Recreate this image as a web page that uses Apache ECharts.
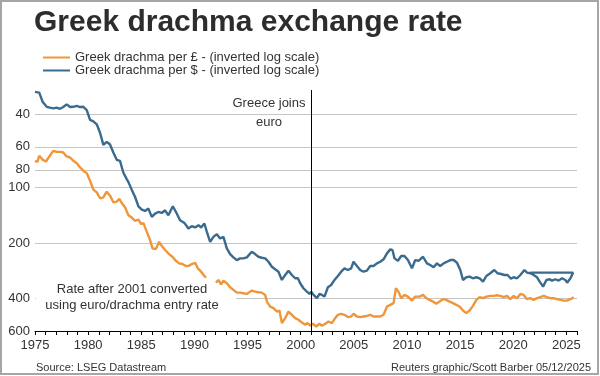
<!DOCTYPE html>
<html>
<head>
<meta charset="utf-8">
<script src="https://cdn.jsdelivr.net/npm/echarts@6/dist/echarts.min.js"></script>
<style>
  html, body { margin: 0; padding: 0; background: #fff; }
  #main { width: 600px; height: 376px; }
</style>
</head>
<body>
<div id="main"></div>
<script>
// drachma per £ (orange) and per $ (blue), [year, rate]
var gbpSeries = [
  [1975.00, 71.5], [1975.22, 72.4], [1975.40, 67.1], [1975.73, 70.6], [1976.04, 72.1], [1976.35, 67.7],
  [1976.72, 63.1], [1977.04, 63.9], [1977.35, 63.9], [1977.66, 64.4], [1977.98, 67.7], [1978.30, 68.6],
  [1978.61, 71.5], [1978.93, 73.6], [1979.24, 77.7], [1979.55, 80.9], [1979.87, 83.4], [1980.18, 91.7],
  [1980.49, 102.5], [1980.81, 106.0], [1981.12, 114.2], [1981.43, 112.8], [1981.75, 105.1], [1982.06, 110.5],
  [1982.37, 120.1], [1982.69, 119.0], [1982.94, 115.2], [1983.16, 121.1], [1983.47, 127.8], [1983.79, 141.2],
  [1984.10, 145.3], [1984.42, 151.5], [1984.73, 148.9], [1984.99, 157.9], [1985.20, 155.4], [1985.52, 173.8],
  [1985.83, 192.7], [1986.05, 213.7], [1986.37, 215.6], [1986.68, 196.8], [1986.99, 209.5], [1987.31, 220.1],
  [1987.62, 229.4], [1987.93, 237.2], [1988.25, 249.4], [1988.56, 257.6], [1988.87, 259.8], [1989.19, 266.3],
  [1989.50, 265.3], [1989.75, 259.8], [1990.07, 255.7], [1990.32, 274.1], [1990.63, 285.9], [1990.94, 301.7],
  [1991.10, 308.0], [1991.55, null],
  [1992.02, 328.0], [1992.26, 317.0], [1992.50, 335.0], [1992.73, 320.0], [1993.05, 330.4], [1993.36, 347.2],
  [1993.67, 359.1], [1993.99, 371.4], [1994.30, 371.4], [1994.61, 374.1], [1994.93, 377.5], [1995.40, 362.2],
  [1995.71, 366.8], [1996.02, 369.5], [1996.34, 371.4], [1996.66, 382.2], [1996.82, 415.3], [1997.13, 442.0],
  [1997.44, 450.8], [1997.76, 470.3], [1998.00, 464.5], [1998.23, 543.5], [1998.54, 510.7], [1998.85, 470.3],
  [1999.17, 490.0], [1999.48, 510.7], [1999.79, 521.6], [2000.11, 539.5], [2000.42, 555.2], [2000.64, 543.5],
  [2000.89, 560.1], [2001.15, 548.3], [2001.46, 567.1], [2001.77, 548.3], [2002.00, 562.1], [2002.31, 548.3],
  [2002.62, 532.8], [2002.94, 543.5], [2003.18, 517.1], [2003.50, 490.0], [2003.81, 484.0], [2004.12, 490.0],
  [2004.44, 504.4], [2004.75, 500.7], [2004.97, 484.0], [2005.29, 500.7], [2005.60, 504.4], [2005.91, 500.7],
  [2006.23, 496.3], [2006.54, 490.0], [2006.85, 500.7], [2007.17, 500.7], [2007.49, 500.7], [2007.80, 490.0],
  [2008.12, 442.0], [2008.43, 432.7], [2008.74, 423.6], [2008.96, 351.6], [2009.20, 366.8], [2009.46, 398.1],
  [2009.77, 382.2], [2010.09, 390.3], [2010.47, 410.2], [2010.78, 390.3], [2011.19, 390.3], [2011.51, 382.2],
  [2011.82, 398.1], [2012.13, 406.6], [2012.45, 415.3], [2012.76, 427.3], [2013.07, 415.3], [2013.39, 403.1],
  [2013.70, 406.6], [2014.01, 415.3], [2014.33, 423.6], [2014.64, 432.7], [2014.95, 442.0], [2015.27, 464.5],
  [2015.58, 479.8], [2015.89, 464.5], [2016.21, 438.1], [2016.53, 406.6], [2016.84, 393.2], [2017.16, 398.1],
  [2017.47, 390.3], [2017.84, 386.9], [2018.16, 386.9], [2018.47, 383.6], [2018.78, 386.9], [2019.10, 393.2],
  [2019.41, 386.9], [2019.73, 403.1], [2020.04, 386.9], [2020.36, 398.1], [2020.67, 377.5], [2020.98, 382.2],
  [2021.30, 403.1], [2021.61, 398.1], [2021.92, 406.6], [2022.24, 398.1], [2022.55, 393.2], [2022.86, 386.9],
  [2023.18, 393.2], [2023.49, 398.1], [2023.80, 398.1], [2024.12, 403.1], [2024.43, 406.6], [2024.74, 410.2],
  [2025.05, 410.2], [2025.38, 403.1], [2025.69, 393.2]
];

var usdSeries = [
  [1975.00, 30.2], [1975.40, 30.5], [1975.73, 34.3], [1976.10, 36.4], [1976.41, 36.8], [1976.72, 37.1],
  [1977.04, 36.8], [1977.35, 37.3], [1977.66, 36.5], [1977.98, 35.3], [1978.30, 36.5], [1978.61, 36.4],
  [1978.93, 36.0], [1979.24, 36.5], [1979.55, 36.4], [1979.87, 37.9], [1980.18, 42.9], [1980.49, 43.7],
  [1980.81, 45.3], [1981.12, 50.3], [1981.43, 58.6], [1981.75, 56.4], [1982.06, 58.3], [1982.37, 64.4],
  [1982.69, 70.6], [1983.00, 71.5], [1983.31, 82.7], [1983.63, 89.9], [1983.79, 93.3], [1984.10, 102.5],
  [1984.42, 112.4], [1984.73, 126.2], [1985.05, 131.5], [1985.36, 133.8], [1985.67, 129.9], [1985.99, 144.1],
  [1986.30, 138.2], [1986.61, 135.5], [1986.93, 137.2], [1987.24, 132.7], [1987.55, 141.2], [1987.97, 126.2],
  [1988.34, 138.2], [1988.65, 150.2], [1989.06, 155.4], [1989.43, 166.6], [1989.75, 161.9], [1990.07, 164.5],
  [1990.38, 159.9], [1990.63, 164.5], [1990.94, 156.5], [1991.17, 173.8], [1991.48, 196.8], [1991.79, 184.9],
  [1992.11, 178.8], [1992.42, 188.7], [1992.73, 184.9], [1993.05, 213.7], [1993.36, 229.4], [1993.67, 238.9],
  [1993.99, 247.2], [1994.30, 242.0], [1994.61, 242.0], [1994.93, 238.9], [1995.40, 222.9], [1995.71, 229.4],
  [1996.02, 237.2], [1996.34, 240.2], [1996.66, 242.0], [1996.97, 252.5], [1997.29, 268.7], [1997.60, 277.5],
  [1997.91, 285.9], [1998.23, 317.0], [1998.54, 297.9], [1998.85, 282.4], [1999.17, 297.9], [1999.48, 310.4],
  [1999.74, 310.4], [1999.95, 330.4], [2000.26, 351.6], [2000.58, 366.8], [2000.83, 377.5], [2000.99, 366.8],
  [2001.21, 382.2], [2001.53, 398.1], [2001.77, 377.5], [2002.00, 382.2], [2002.24, 390.3], [2002.56, 347.2],
  [2002.87, 337.5], [2003.18, 317.0], [2003.50, 301.7], [2003.81, 285.9], [2004.12, 274.1], [2004.44, 279.9],
  [2004.75, 274.1], [2004.97, 252.5], [2005.29, 266.3], [2005.60, 279.9], [2005.91, 285.9], [2006.23, 282.2],
  [2006.54, 266.3], [2006.85, 266.3], [2007.17, 257.6], [2007.49, 252.5], [2007.80, 244.9], [2008.12, 227.4],
  [2008.43, 216.3], [2008.64, 218.6], [2008.83, 242.0], [2009.15, 249.4], [2009.46, 235.1], [2009.77, 235.1],
  [2010.09, 247.2], [2010.47, 274.1], [2010.78, 247.2], [2011.09, 249.4], [2011.51, 237.2], [2011.88, 257.6],
  [2012.19, 263.0], [2012.50, 270.7], [2012.82, 257.6], [2013.13, 266.3], [2013.45, 257.6], [2013.76, 252.5],
  [2014.08, 247.2], [2014.39, 247.2], [2014.71, 255.7], [2015.02, 279.9], [2015.27, 317.0], [2015.58, 306.5],
  [2015.89, 304.2], [2016.21, 310.4], [2016.53, 306.5], [2016.84, 310.4], [2017.16, 323.7], [2017.47, 301.7],
  [2017.84, 291.6], [2018.22, 279.9], [2018.53, 291.6], [2018.85, 294.3], [2019.16, 297.9], [2019.47, 297.9],
  [2019.78, 312.0], [2020.04, 306.5], [2020.36, 310.4], [2020.67, 297.9], [2021.05, 279.9], [2021.30, 289.4],
  [2021.61, 291.6], [2021.92, 297.9], [2022.24, 306.5], [2022.49, 323.7], [2022.81, 344.6], [2023.12, 317.0],
  [2023.43, 314.2], [2023.65, 319.7], [2023.96, 314.2], [2024.27, 319.7], [2024.59, 310.4], [2024.90, 317.0],
  [2025.07, 328.0], [2025.38, 310.4], [2025.63, 289.4], [2025.75, 289.4], [2021.61, 289.4]
];

var yTickValues = [40, 60, 80, 100, 200, 400, 600];
var euroEntryYear = 2001;

var FONT = "'Liberation Sans', Arial, sans-serif";
var TEXT = '#333333';

var myChart = echarts.init(document.getElementById('main'));

option = {
    animation: false,
    backgroundColor: '#ffffff',
    title: {
        text: 'Greek drachma exchange rate',
        left: 34,
        top: 8,
        padding: 0,
        textStyle: {
            fontFamily: FONT,
            fontSize: 30,
            fontWeight: 'bold',
            color: '#2d2d2d'
        }
    },
    legend: {
        orient: 'vertical',
        left: 43,
        top: 51,
        padding: 0,
        itemGap: 0,
        itemWidth: 27,
        itemHeight: 2,
        icon: 'rect',
        data: ['Greek drachma per £ - (inverted log scale)', 'Greek drachma per $ - (inverted log scale)'],
        textStyle: { fontFamily: FONT, fontSize: 13, lineHeight: 13, color: TEXT }
    },
    grid: {
        left: 35,
        right: 23,
        top: 90,
        bottom: 45
    },
    xAxis: {
        type: 'value',
        min: 1975,
        max: 2026,
        interval: 1,
        splitLine: { show: false },
        axisLine: { lineStyle: { color: '#000', width: 1 } },
        axisTick: { show: true, length: 4, lineStyle: { color: '#000' } },
        axisLabel: {
            margin: 8,
            color: TEXT,
            fontFamily: FONT,
            fontSize: 13,
            formatter: function (v) { return v % 5 === 0 ? String(v) : ''; }
        }
    },
    yAxis: {
        type: 'log',
        inverse: true,
        min: 29.5,
        max: 600,
        axisLine: { show: false },
        axisTick: { show: false, customValues: yTickValues },
        axisLabel: {
            customValues: yTickValues,
            margin: 5,
            color: TEXT,
            fontFamily: FONT,
            fontSize: 13
        },
        splitLine: { show: true, lineStyle: { color: '#c6c6c6', width: 1 } }
    },
    graphic: [
        {
            type: 'rect', z: 1, silent: true,
            shape: { x: 36, y: 293, width: 200, height: 11 },
            style: { fill: '#ffffff' }
        },
        {
            type: 'text', z: 3, silent: true,
            style: {
                x: 269, y: 94, text: 'Greece joins\neuro',
                textAlign: 'center', textVerticalAlign: 'top',
                font: '13px ' + FONT, lineHeight: 19, fill: TEXT
            }
        },
        {
            type: 'text', z: 3, silent: true,
            style: {
                x: 132, y: 281, text: 'Rate after 2001 converted\nusing euro/drachma entry rate',
                textAlign: 'center', textVerticalAlign: 'top',
                font: '13px ' + FONT, lineHeight: 16, fill: TEXT
            }
        },
        {
            type: 'text', z: 3, silent: true,
            style: {
                x: 36, y: 361, text: 'Source: LSEG Datastream',
                textAlign: 'left', textVerticalAlign: 'top',
                font: '11px ' + FONT, lineHeight: 14, fill: TEXT
            }
        },
        {
            type: 'text', z: 3, silent: true,
            style: {
                x: 591, y: 361, text: 'Reuters graphic/Scott Barber 05/12/2025',
                textAlign: 'right', textVerticalAlign: 'top',
                font: '11px ' + FONT, lineHeight: 14, fill: TEXT
            }
        },
        {
            type: 'rect', z: 10, silent: true,
            shape: { x: 1, y: 1, width: 597, height: 373 },
            style: { fill: 'none', stroke: '#a6a6a6', lineWidth: 2 }
        }
    ],
    series: [
        {
            name: 'Greek drachma per £ - (inverted log scale)',
            type: 'line',
            data: gbpSeries,
            showSymbol: false,
            symbol: 'none',
            connectNulls: false,
            color: '#f0963a',
            lineStyle: { width: 2.4, color: '#f0963a' }
        },
        {
            name: 'Greek drachma per $ - (inverted log scale)',
            type: 'line',
            data: usdSeries,
            showSymbol: false,
            symbol: 'none',
            color: '#3a6b8e',
            lineStyle: { width: 2.4, color: '#3a6b8e' },
            markLine: {
                silent: true,
                symbol: 'none',
                label: { show: false },
                lineStyle: { color: '#000', width: 1, type: 'solid' },
                data: [{ xAxis: euroEntryYear }]
            }
        }
    ]
};

myChart.setOption(option);
</script>
</body>
</html>
